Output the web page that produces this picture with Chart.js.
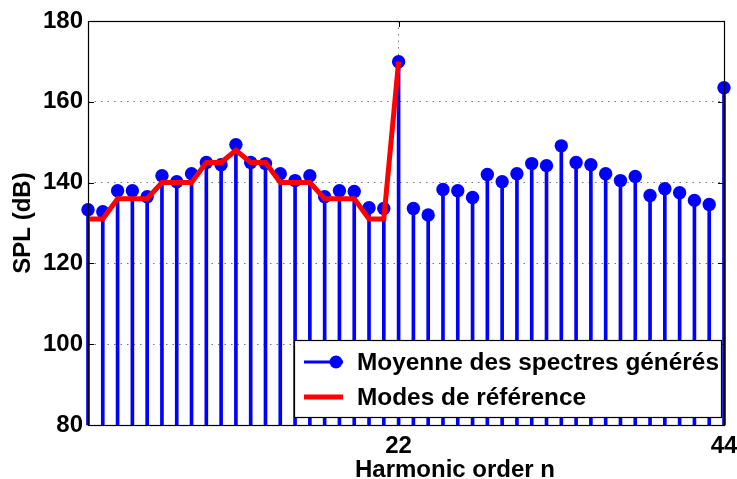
<!DOCTYPE html>
<html>
<head>
<meta charset="utf-8">
<script src="https://cdn.jsdelivr.net/npm/chart.js@4.4.1/dist/chart.umd.min.js"></script>
<style>
  html, body { margin: 0; padding: 0; background: #fff; }
  #wrap { width: 737px; height: 479px; }
</style>
</head>
<body>
<div id="wrap"><canvas id="spl"></canvas></div>
<script>
// ---------- Data ----------

const harmonics = Array.from({ length: 44 }, (_, i) => i + 1);

// mean of generated spectra, n = 1..44
const meanSpl = [
  133.3, 132.8, 138.0, 138.0, 136.5, 141.7, 140.2, 142.2, 145.0, 144.4,
  149.4, 145.0, 144.7, 142.2, 140.5, 141.7, 136.5, 138.0, 137.8, 133.8,
  133.6, 169.9, 133.6, 132.0, 138.3, 138.0, 136.3, 142.0, 140.2, 142.2,
  144.7, 144.2, 149.1, 145.0, 144.4, 142.2, 140.5, 141.5, 136.8, 138.5,
  137.5, 135.6, 134.6, 163.5
];

// reference modes, n = 1..22
const refSpl = [
  131, 131, 136, 136, 136, 140, 140, 140, 145, 145,
  148, 145, 145, 140, 140, 140, 136, 136, 136, 131,
  131, 170
];

const stemBase = 80;
const xTickValues = [22, 44];
const yTickValues = [80, 100, 120, 140, 160, 180];

const xTitle = 'Harmonic order n';
const yTitle = 'SPL (dB)';
const legendLabels = ['Moyenne des spectres générés', 'Modes de référence'];

// ---------- Styles ----------

const BLUE = '#0000ff';
const RED = '#ff0000';
const FAMILY = "'Liberation Sans', Arial, sans-serif";
const FONT = { family: FAMILY, size: 24, weight: 'bold' };
const GRID_DASH = [1.5, 5];

// ---------- Plugins ----------

// box around the axes + inward tick marks, like MATLAB
const frameTicks = {
  id: 'frameTicks',
  afterDatasetsDraw(chart) {
    const { ctx, chartArea: a, scales } = chart;
    ctx.save();
    ctx.strokeStyle = '#000';
    ctx.lineWidth = 1;
    ctx.beginPath();
    yTickValues.forEach((v) => {
      const y = Math.round(scales.y.getPixelForValue(v)) + 0.5;
      ctx.moveTo(a.left, y); ctx.lineTo(a.left + 6, y);
      ctx.moveTo(a.right, y); ctx.lineTo(a.right - 6, y);
    });
    xTickValues.forEach((v) => {
      const x = Math.round(scales.x.getPixelForValue(v)) + 0.5;
      ctx.moveTo(x, a.top); ctx.lineTo(x, a.top + 6);
      ctx.moveTo(x, a.bottom); ctx.lineTo(x, a.bottom - 6);
    });
    ctx.stroke();
    ctx.restore();
  },
  afterDraw(chart) {
    const { ctx, chartArea: a } = chart;
    ctx.save();
    ctx.strokeStyle = '#000';
    ctx.lineWidth = 1.2;
    ctx.strokeRect(Math.round(a.left) + 0.5, Math.round(a.top) + 0.5,
      Math.round(a.right - a.left), Math.round(a.bottom - a.top));

    // x label sits right of the axis centre in the original figure
    ctx.fillStyle = '#000';
    ctx.font = `bold ${FONT.size}px ${FAMILY}`;
    ctx.textAlign = 'center';
    ctx.textBaseline = 'alphabetic';
    ctx.fillText(xTitle, a.left + (a.right - a.left) * 0.577, 477);
    ctx.restore();
  }
};

// legend box in the lower right corner of the axes
const insideLegend = {
  id: 'insideLegend',
  afterDraw(chart) {
    const { ctx, chartArea: a } = chart;
    const w = 427, h = 77;
    const x0 = a.right - 3 - w;
    const y0 = a.bottom - 8 - h;
    ctx.save();
    ctx.fillStyle = '#fff';
    ctx.fillRect(x0, y0, w, h);
    ctx.strokeStyle = '#000';
    ctx.lineWidth = 1.2;
    ctx.strokeRect(x0 + 0.5, y0 + 0.5, w, h);

    const rows = [y0 + 22, y0 + 57];
    // row 1: blue line + dot
    ctx.strokeStyle = BLUE;
    ctx.lineWidth = 3;
    ctx.beginPath();
    ctx.moveTo(x0 + 10, rows[0]); ctx.lineTo(x0 + 49, rows[0]);
    ctx.stroke();
    ctx.fillStyle = BLUE;
    ctx.beginPath();
    ctx.arc(x0 + 42, rows[0], 6.5, 0, Math.PI * 2);
    ctx.fill();
    // row 2: red line
    ctx.strokeStyle = RED;
    ctx.lineWidth = 5;
    ctx.beginPath();
    ctx.moveTo(x0 + 10, rows[1]); ctx.lineTo(x0 + 49, rows[1]);
    ctx.stroke();

    ctx.fillStyle = '#000';
    ctx.font = `bold 24.4px ${FAMILY}`;
    ctx.textBaseline = 'middle';
    ctx.textAlign = 'left';
    legendLabels.forEach((t, i) => ctx.fillText(t, x0 + 63, rows[i] + 1));
    ctx.restore();
  }
};

// ---------- Chart ----------

function buildChart() {
  const ctx = document.getElementById('spl').getContext('2d');
  return new Chart(ctx, {
    data: {
      datasets: [
        {
          type: 'line',
          label: legendLabels[1],
          data: refSpl.map((v, i) => ({ x: harmonics[i], y: v })),
          borderColor: RED,
          borderWidth: 5,
          pointRadius: 0,
          tension: 0,
          fill: false,
          clip: false,
          order: 0
        },
        {
          type: 'scatter',
          label: legendLabels[0],
          data: meanSpl.map((v, i) => ({ x: harmonics[i], y: v })),
          backgroundColor: BLUE,
          borderColor: BLUE,
          borderWidth: 0,
          pointRadius: 6.7,
          clip: false,
          order: 1
        },
        {
          type: 'bar',
          label: 'stems',
          data: meanSpl.map((v, i) => ({ x: harmonics[i], y: [stemBase, v] })),
          backgroundColor: BLUE,
          borderWidth: 0,
          barThickness: 3,
          grouped: false,
          clip: false,
          order: 2
        }
      ]
    },
    options: {
      responsive: true,
      maintainAspectRatio: false,
      animation: false,
      events: [],
      layout: { padding: { top: 21, right: 13, left: 0, bottom: 0 } },
      plugins: {
        legend: { display: false },
        tooltip: { enabled: false }
      },
      scales: {
        x: {
          type: 'linear',
          min: 1,
          max: 44,
          offset: false,
          afterBuildTicks: (s) => { s.ticks = xTickValues.map((v) => ({ value: v })); },
          afterFit: (s) => {
            s.height = 54;
            s.paddingLeft = 0;
            s.paddingRight = 0;
          },
          grid: {
            color: '#777',
            lineWidth: 1,
            offset: false,
            drawTicks: false
          },
          border: { display: false, dash: GRID_DASH },
          ticks: {
            color: '#000',
            font: FONT,
            padding: 7,
            maxRotation: 0,
            autoSkip: false
          },
          title: { display: false }
        },
        y: {
          type: 'linear',
          min: 80,
          max: 180,
          afterBuildTicks: (s) => { s.ticks = yTickValues.map((v) => ({ value: v })); },
          afterFit: (s) => { s.width = 88; },
          grid: {
            color: '#777',
            lineWidth: 1,
            offset: false,
            drawTicks: false
          },
          border: { display: false, dash: GRID_DASH },
          ticks: {
            color: '#000',
            font: FONT,
            padding: 5
          },
          title: {
            display: true,
            text: yTitle,
            color: '#000',
            font: FONT,
            padding: { top: 9, bottom: 0 }
          }
        }
      }
    },
    plugins: [frameTicks, insideLegend]
  });
}

document.addEventListener('DOMContentLoaded', buildChart);
</script>
</body>
</html>
